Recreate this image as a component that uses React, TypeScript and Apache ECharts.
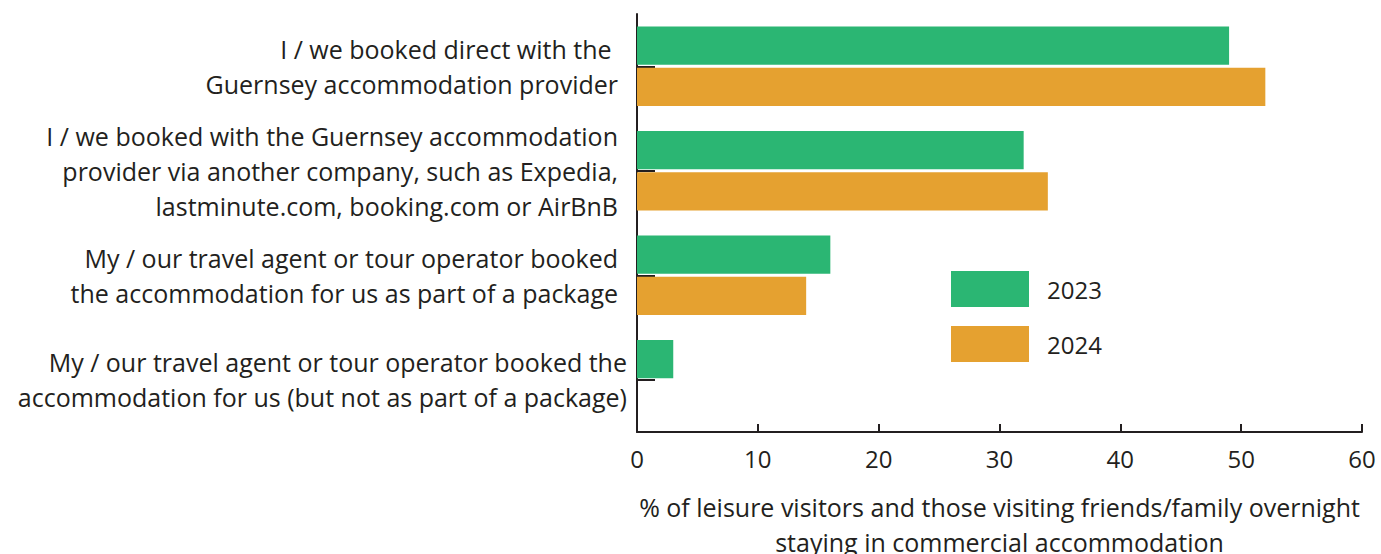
import React, { useEffect, useRef } from "react";
import * as echarts from "echarts";

const categories = [
  "I / we booked direct with the \nGuernsey accommodation provider",
  "I / we booked with the Guernsey accommodation\nprovider via another company, such as Expedia,\nlastminute.com, booking.com or AirBnB",
  "My / our travel agent or tour operator booked\nthe accommodation for us as part of a package",
  "My / our travel agent or tour operator booked the\naccommodation for us (but not as part of a package)",
];
const series2023 = [49, 32, 16, 3];
const series2024 = [52, 34, 14, 0];
const seriesNames = ["2023", "2024"];
const xTicks = { min: 0, max: 60, interval: 10 };
const xAxisTitle =
  "% of leisure visitors and those visiting friends/family overnight\nstaying in commercial accommodation";

const GREEN = "#2bb673";
const ORANGE = "#e5a130";
const INK = "#231f20";
const FONT = "'Open Sans', 'Noto Sans', sans-serif";
const FS = 25;

export default function App() {
  const ref = useRef<HTMLDivElement>(null);
  useEffect(() => {
    if (!ref.current) return;
    const chart = echarts.init(ref.current, undefined, { renderer: "svg" });
    const yData = categories.map((c, i) =>
      i === categories.length - 1
        ? { value: c, textStyle: { padding: [0, 0, 0, 0] } }
        : c
    );
    chart.setOption({
      animation: false,
      textStyle: { fontFamily: FONT, color: INK },
      grid: {
        left: 637,
        right: 19,
        top: 14,
        bottom: 122,
        containLabel: false,
        outerBoundsMode: "none",
      },
      legend: {
        orient: "vertical",
        left: 951,
        top: 271,
        padding: 0,
        itemWidth: 78,
        itemHeight: 36,
        itemGap: 19,
        icon: "rect",
        textStyle: { fontSize: 24, color: INK, fontFamily: FONT, padding: [0, 0, 0, 13] },
        data: seriesNames,
      },
      xAxis: {
        type: "value",
        min: xTicks.min,
        max: xTicks.max,
        interval: xTicks.interval,
        splitLine: { show: false },
        axisLine: { show: true, lineStyle: { color: INK, width: 2 } },
        axisTick: { show: true, inside: true, length: 8, lineStyle: { color: INK, width: 2 } },
        axisLabel: { fontSize: 24, color: INK, margin: 14, fontFamily: FONT },
        name: xAxisTitle,
        nameLocation: "middle",
        nameGap: 57,
        nameTextStyle: { fontSize: FS, color: INK, lineHeight: 35, fontFamily: FONT },
      },
      yAxis: {
        type: "category",
        inverse: true,
        data: yData,
        axisLine: { show: true, lineStyle: { color: INK, width: 2 } },
        axisTick: {
          show: true,
          inside: true,
          alignWithLabel: true,
          length: 18,
          lineStyle: { color: INK, width: 2 },
        },
        axisLabel: {
          fontSize: FS,
          color: INK,
          margin: 10,
          padding: [0, 9, 0, 0],
          lineHeight: 35,
          align: "right",
          fontFamily: FONT,
        },
      },
      series: [
        {
          name: seriesNames[0],
          type: "bar",
          data: series2023,
          itemStyle: { color: GREEN },
          barCategoryGap: "24%",
          barGap: "8%",
        },
        {
          name: seriesNames[1],
          type: "bar",
          data: series2024,
          itemStyle: { color: ORANGE },
          barCategoryGap: "24%",
          barGap: "8%",
        },
      ],
    });
    return () => chart.dispose();
  }, []);
  return (
    <div
      ref={ref}
      style={{ position: "fixed", left: 0, top: 0, width: 1381, height: 554, background: "#fff" }}
    />
  );
}
